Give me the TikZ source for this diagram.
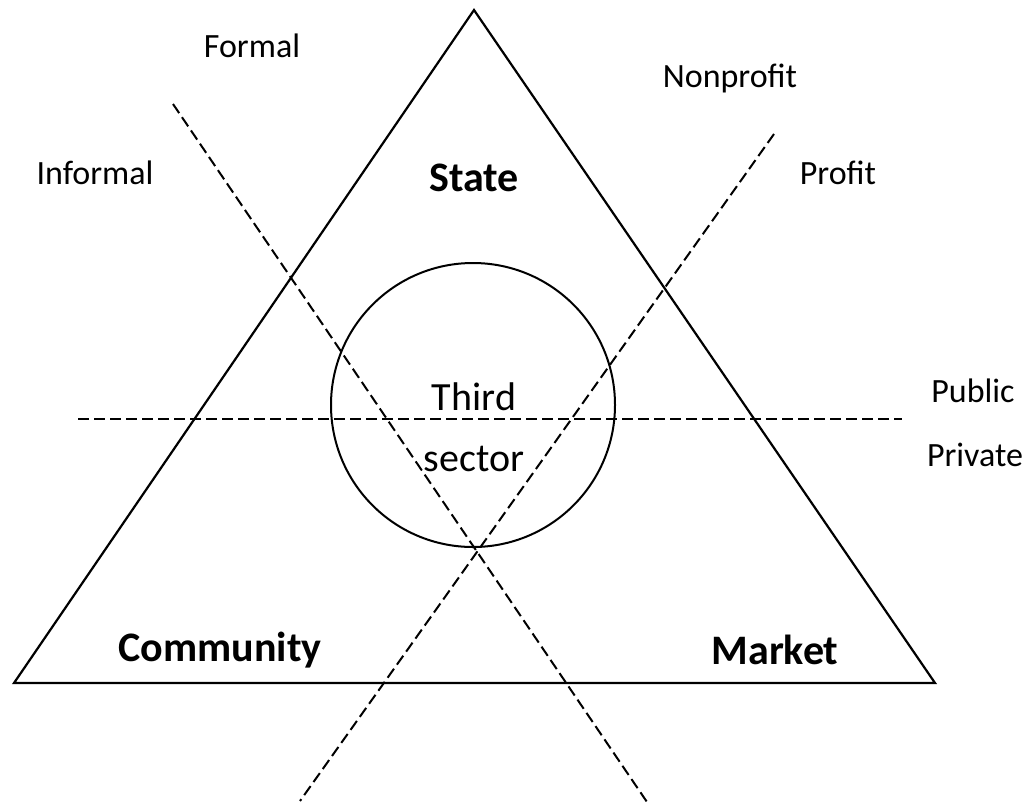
\documentclass[tikz,border=0pt]{standalone}
\usepackage{fontspec}
\setmainfont{Carlito}
\usetikzlibrary{positioning}

\tikzset{
  divider/.style={dash pattern=on 11pt off 5pt, line width=2pt},
  sectorlbl/.style={inner sep=0.75pt, font=\fontsize{42}{46}\selectfont\bfseries},
  axislbl/.style={inner sep=0.75pt, font=\fontsize{34}{38}\selectfont},
}

\begin{document}
\begin{tikzpicture}[x=1pt,y=1pt,yscale=-1,xscale=1]
\useasboundingbox (0,0) rectangle (1028,807);

% Triangle
\coordinate (apex) at (474,10);
\coordinate (botl) at (14,683);
\coordinate (botr) at (935,683);
\draw [line width=2.2pt, line join=miter] (apex) -- (botr) -- (botl) -- cycle ;

% Circle
\draw [line width=2pt] (473,405) circle [radius=142];

% Dashed dividers
\coordinate (publ) at (78,419);
\coordinate (pubr) at (902,419);
\draw [divider] (publ) -- (pubr) ;
\coordinate (fortop) at (173,104);
\coordinate (forbot) at (647,802);
\draw [divider] (fortop) -- (forbot) ;
\coordinate (protop) at (774,134);
\coordinate (probot) at (300,801);
\draw [divider] (protop) -- (probot) ;

% Text Node
\node [sectorlbl] (state) at (474,178) {State};
\node [sectorlbl] (community) at (220,650) {Community};
\node [sectorlbl] (market) at (775,650) {Market};
% Text Node
\node [axislbl, font=\fontsize{40}{44}\selectfont] (third) at (474,397) {Third};
\node [axislbl, font=\fontsize{40}{44}\selectfont] (sector) at (474,459) {sector};
% Text Node
\node [axislbl] (formal) at (252,46) {Formal};
\node [axislbl] (informal) at (95,173) {Informal};
\node [axislbl] (nonprofit) at (730,78) {Nonprofit};
\node [axislbl] (profit) at (838,173) {Profit};
\node [axislbl] (public) at (973,391) {Public};
\node [axislbl] (private) at (975,455) {Private};

\end{tikzpicture}
\end{document}
